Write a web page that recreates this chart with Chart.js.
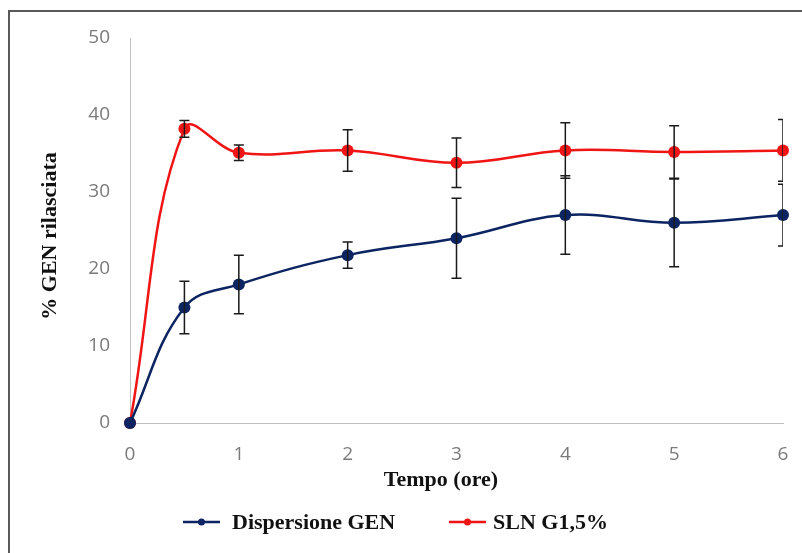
<!DOCTYPE html>
<html>
<head>
<meta charset="utf-8">
<script src="https://cdn.jsdelivr.net/npm/chart.js@4.4.1/dist/chart.umd.min.js"></script>
<style>
  html, body { margin: 0; padding: 0; background: #fff; }
  #wrap { position: relative; width: 802px; height: 553px; }
</style>
</head>
<body>
<div id="wrap"><canvas id="releaseChart" width="802" height="553"></canvas></div>
<script>
// time points (hours)
const timePoints = [0, 0.5, 1, 2, 3, 4, 5, 6];

// % GEN released
const dispersioneGEN = [0, 15, 18, 21.8, 24, 27, 26, 27];
const dispersioneErr = [0, 3.4, 3.8, 1.7, 5.2, 5.1, 5.7, 4.0];
const slnG15 = [0, 38.2, 35.1, 35.4, 33.8, 35.4, 35.2, 35.4];
const slnErr = [0, 1.1, 1.0, 2.7, 3.2, 3.6, 3.4, 4.0];

const seriesLabels = ['Dispersione GEN', 'SLN G1,5%'];
const xTicks = [0, 1, 2, 3, 4, 5, 6];
const yTicks = [0, 10, 20, 30, 40, 50];

const BLUE = '#0c2461';
const RED = '#f01414';

function toPoints(values) {
    return timePoints.map((t, i) => ({ x: t, y: values[i] }));
}

// frame, error bars, axis titles and legend
const extrasPlugin = {
    id: 'extras',
    beforeDraw(chart) {
        const ctx = chart.ctx;
        ctx.save();
        ctx.strokeStyle = '#5a5a5a';
        ctx.lineWidth = 2;
        ctx.beginPath();
        ctx.moveTo(802, 11);
        ctx.lineTo(9, 11);
        ctx.lineTo(9, 553);
        ctx.stroke();
        ctx.restore();
    },
    afterDatasetsDraw(chart) {
        const ctx = chart.ctx;
        const xs = chart.scales.x, ys = chart.scales.y;
        const area = chart.chartArea;
        const errs = [dispersioneErr, slnErr];
        ctx.save();
        ctx.beginPath();
        ctx.rect(area.left, area.top - 5, area.right - area.left, area.bottom - area.top + 5);
        ctx.clip();
        ctx.strokeStyle = '#1a1a1a';
        ctx.lineWidth = 1.5;
        chart.data.datasets.forEach((ds, di) => {
            ds.data.forEach((p, i) => {
                const e = errs[di][i];
                if (!e) return;
                const px = xs.getPixelForValue(p.x);
                const top = ys.getPixelForValue(p.y + e);
                const bot = ys.getPixelForValue(p.y - e);
                ctx.beginPath();
                ctx.moveTo(px, top); ctx.lineTo(px, bot);
                ctx.moveTo(px - 5, top); ctx.lineTo(px + 5, top);
                ctx.moveTo(px - 5, bot); ctx.lineTo(px + 5, bot);
                ctx.stroke();
            });
        });
        ctx.restore();
    },
    afterDraw(chart) {
        const ctx = chart.ctx;
        ctx.save();
        ctx.fillStyle = '#111';
        ctx.font = 'bold 22px "Liberation Serif", "Times New Roman", serif';
        ctx.textAlign = 'center';
        ctx.textBaseline = 'middle';
        ctx.fillText('Tempo (ore)', 441, 480);

        ctx.save();
        ctx.translate(50, 236);
        ctx.rotate(-Math.PI / 2);
        ctx.fillText('% GEN rilasciata', 0, 0);
        ctx.restore();

        // legend
        const items = [
            { x0: 183, x1: 220, tx: 232, color: BLUE, label: seriesLabels[0] },
            { x0: 449, x1: 486, tx: 493, color: RED, label: seriesLabels[1] }
        ];
        ctx.textAlign = 'left';
        items.forEach(it => {
            ctx.strokeStyle = it.color;
            ctx.lineWidth = 2.5;
            ctx.beginPath();
            ctx.moveTo(it.x0, 522); ctx.lineTo(it.x1, 522);
            ctx.stroke();
            ctx.fillStyle = it.color;
            ctx.beginPath();
            ctx.arc((it.x0 + it.x1) / 2, 522, 3.5, 0, Math.PI * 2);
            ctx.fill();
            ctx.fillStyle = '#111';
            ctx.fillText(it.label, it.tx, 523);
        });
        ctx.restore();
    }
};

new Chart(document.getElementById('releaseChart'), {
    type: 'line',
    data: {
        datasets: [{
            label: seriesLabels[0],
            data: toPoints(dispersioneGEN),
            borderColor: BLUE,
            backgroundColor: BLUE,
            borderWidth: 2.5,
            tension: 0.4,
            pointRadius: 6,
            pointBorderWidth: 0,
            pointBackgroundColor: BLUE
        }, {
            label: seriesLabels[1],
            data: toPoints(slnG15),
            borderColor: RED,
            backgroundColor: RED,
            borderWidth: 2.5,
            tension: 0.4,
            pointRadius: 6,
            pointBorderWidth: 0,
            pointBackgroundColor: RED
        }]
    },
    options: {
        responsive: false,
        animation: false,
        clip: false,
        layout: { padding: { top: 38, right: 19, bottom: 0, left: 0 } },
        plugins: {
            legend: { display: false },
            tooltip: { enabled: false }
        },
        scales: {
            x: {
                type: 'linear',
                min: 0,
                max: 6,
                afterBuildTicks: s => { s.ticks = xTicks.map(v => ({ value: v })); },
                afterFit: s => {
                    s.height = 130;
                    s.paddingLeft = 0;
                    s.paddingRight = 0;
                },
                grid: { display: false, drawTicks: false },
                border: { display: true, color: '#c0c0c0', width: 1 },
                ticks: {
                    padding: 20,
                    color: '#7a7a7a',
                    font: { family: '"Open Sans", sans-serif', size: 19 }
                }
            },
            y: {
                min: 0,
                max: 50,
                afterBuildTicks: s => { s.ticks = yTicks.map(v => ({ value: v })); },
                afterFit: s => { s.width = 130; },
                grid: { display: false, drawTicks: false },
                border: { display: true, color: '#c0c0c0', width: 1 },
                ticks: {
                    padding: 20,
                    color: '#7a7a7a',
                    font: { family: '"Open Sans", sans-serif', size: 19 }
                }
            }
        }
    },
    plugins: [extrasPlugin]
});
</script>
</body>
</html>
